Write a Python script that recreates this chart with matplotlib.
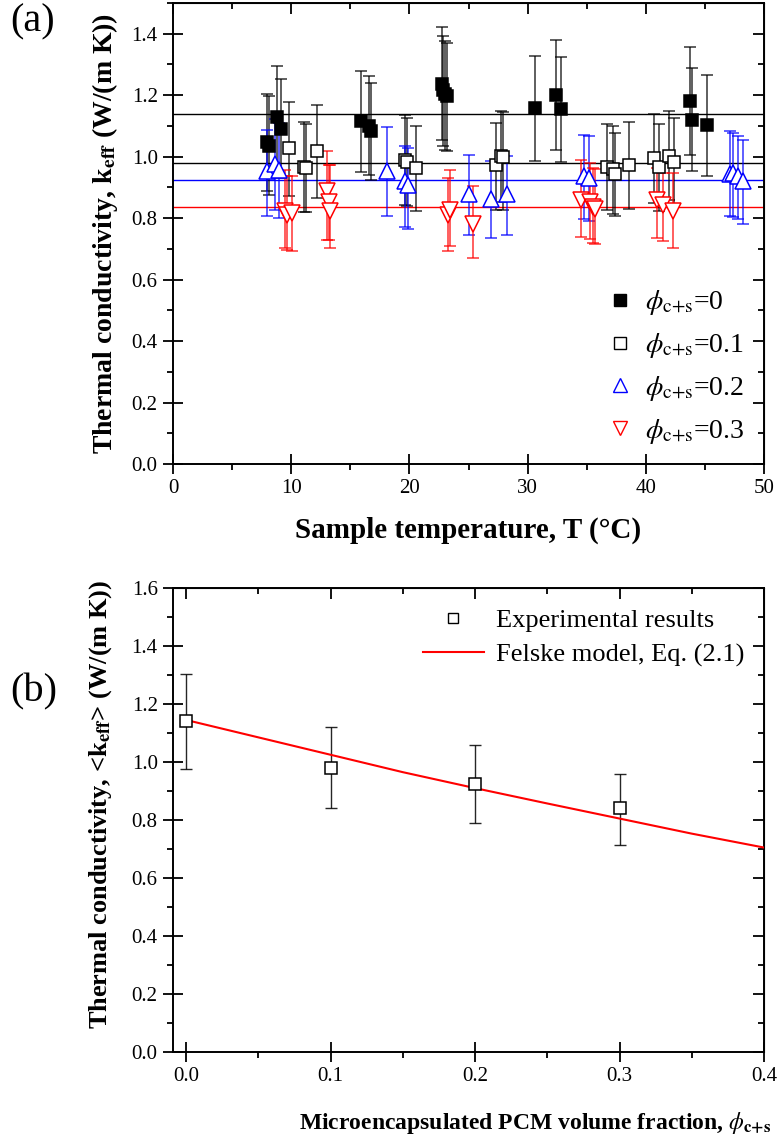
import matplotlib
matplotlib.use("Agg")
import matplotlib.pyplot as plt
from matplotlib.ticker import MultipleLocator, FormatStrFormatter
from matplotlib.lines import Line2D
import numpy as np

plt.rcParams['font.family'] = ['Liberation Serif', 'DejaVu Serif']
plt.rcParams['mathtext.fontset'] = 'stix'

# ---------------- Panel (a) data ----------------
T0 = [7.93, 8.12, 8.83, 9.11, 15.93, 16.58, 16.78, 22.73, 22.87, 23.0, 23.2,
      30.63, 32.43, 32.8, 43.71, 43.94, 45.15]
k0 = [1.047, 1.034, 1.129, 1.091, 1.115, 1.099, 1.083, 1.238, 1.218, 1.205, 1.196,
      1.159, 1.202, 1.156, 1.182, 1.120, 1.102]
k0_hi = [1.204, 1.196, 1.294, 1.254, 1.278, 1.262, 1.240, 1.421, 1.394, 1.376, 1.370,
         1.329, 1.379, 1.325, 1.356, 1.287, 1.267]
k0_lo = [0.887, 0.876, 0.960, 0.930, 0.951, 0.939, 0.923, 1.055, 1.034, 1.023, 1.017,
         0.986, 1.023, 0.984, 1.004, 0.952, 0.936]

T1 = [9.84, 11.11, 11.28, 12.18, 19.66, 19.82, 20.56, 27.3, 27.72, 27.9,
      36.69, 37.2, 37.37, 38.55, 40.7, 41.1, 41.96, 42.36]
k1 = [1.027, 0.968, 0.962, 1.018, 0.990, 0.984, 0.963, 0.972, 1.003, 1.000,
      0.968, 0.960, 0.944, 0.972, 0.995, 0.965, 1.001, 0.984]
k1_hi = [1.179, 1.112, 1.107, 1.169, 1.134, 1.126, 1.101, 1.110, 1.147, 1.144,
         1.107, 1.100, 1.077, 1.112, 1.140, 1.107, 1.147, 1.127]
k1_lo = [0.873, 0.821, 0.819, 0.865, 0.844, 0.838, 0.823, 0.827, 0.854, 0.827,
         0.827, 0.815, 0.806, 0.831, 0.849, 0.822, 0.860, 0.844]

T2 = [7.98, 8.66, 9.0, 18.08, 19.63, 19.9, 25.0, 26.88, 28.23, 34.8, 35.2,
      47.1, 47.4, 47.8, 48.25]
k2 = [0.952, 0.976, 0.955, 0.952, 0.920, 0.909, 0.880, 0.862, 0.878, 0.936, 0.930,
      0.945, 0.947, 0.936, 0.920]
k2_hi = [1.088, 1.121, 1.110, 1.096, 1.036, 1.028, 1.004, 0.985, 1.001, 1.072, 1.066,
         1.082, 1.077, 1.068, 1.053]
k2_lo = [0.806, 0.827, 0.800, 0.808, 0.771, 0.765, 0.745, 0.735, 0.746, 0.797, 0.792,
         0.806, 0.804, 0.797, 0.782]

T3 = [9.48, 9.67, 10.04, 13.06, 13.2, 13.25, 23.29, 23.43, 25.4, 34.5, 35.28, 35.56,
      35.7, 40.92, 41.48, 42.33]
k3 = [0.822, 0.811, 0.817, 0.887, 0.854, 0.822, 0.811, 0.827, 0.782, 0.860, 0.854,
      0.836, 0.830, 0.860, 0.844, 0.822]
k3_hi = [0.958, 0.936, 0.936, 1.017, 0.974, 0.974, 0.931, 0.955, 0.903, 0.990, 0.979,
         0.963, 0.960, 0.963, 0.947, 0.947]
k3_lo = [0.703, 0.697, 0.692, 0.730, 0.730, 0.703, 0.692, 0.708, 0.670, 0.738, 0.732,
         0.719, 0.715, 0.735, 0.724, 0.703]

mean_k = [1.14, 0.98, 0.925, 0.837]
mean_colors = ['black', 'black', 'blue', 'red']
legend_a = [r'$\phi_{\rm c{+}s}$' + '=0', r'$\phi_{\rm c{+}s}$' + '=0.1',
            r'$\phi_{\rm c{+}s}$' + '=0.2', r'$\phi_{\rm c{+}s}$' + '=0.3']

# ---------------- Panel (b) data ----------------
phi_exp = [0.0, 0.1, 0.2, 0.3]
k_exp = [1.14, 0.98, 0.925, 0.84]
k_exp_hi = [1.305, 1.12, 1.06, 0.96]
k_exp_lo = [0.975, 0.84, 0.79, 0.715]

phi_model = [0.0, 0.05, 0.1, 0.15, 0.2, 0.25, 0.3, 0.35, 0.4]
k_model = [1.145, 1.085, 1.025, 0.965, 0.91, 0.857, 0.805, 0.753, 0.705]
legend_b = ['Experimental results', 'Felske model, Eq. (2.1)']

# ---------------- Figure ----------------
fig = plt.figure(figsize=(7.79, 11.46), dpi=100)
axA = fig.add_axes([173/779, 1-464/1146, 591/779, 461/1146])
axB = fig.add_axes([173/779, 1-1052/1146, 591/779, 464/1146])


def style(ax, xmaj, xmin, ymaj, ymin):
    for s in ax.spines.values():
        s.set_linewidth(1.4)
    ax.xaxis.set_major_locator(MultipleLocator(xmaj))
    ax.xaxis.set_minor_locator(MultipleLocator(xmin))
    ax.yaxis.set_major_locator(MultipleLocator(ymaj))
    ax.yaxis.set_minor_locator(MultipleLocator(ymin))
    ax.tick_params(which='major', direction='inout', length=14, width=1.3,
                   labelsize=15, pad=4)
    ax.tick_params(which='minor', direction='out', length=4, width=1.3)
    sx = ax.secondary_xaxis('top')
    sx.xaxis.set_major_locator(MultipleLocator(xmaj))
    sx.xaxis.set_minor_locator(MultipleLocator(xmin))
    sx.tick_params(which='major', direction='in', length=8, width=1.3,
                   labeltop=False, labelbottom=False)
    sx.tick_params(which='minor', direction='in', length=4, width=1.3)
    sy = ax.secondary_yaxis('right')
    sy.yaxis.set_major_locator(MultipleLocator(ymaj))
    sy.yaxis.set_minor_locator(MultipleLocator(ymin))
    sy.tick_params(which='major', direction='in', length=8, width=1.3,
                   labelleft=False, labelright=False)
    sy.tick_params(which='minor', direction='in', length=4, width=1.3)


# Panel (a)
for k, c in zip(mean_k, mean_colors):
    axA.axhline(k, color=c, lw=1.0, zorder=1)

series = [
    (T0, k0, k0_hi, k0_lo, 's', 'black', 'black'),
    (T1, k1, k1_hi, k1_lo, 's', 'white', 'black'),
    (T2, k2, k2_hi, k2_lo, '^', 'white', 'blue'),
    (T3, k3, k3_hi, k3_lo, 'v', 'white', 'red'),
]
for T, k, hi, lo, m, fc, ec in series:
    T = np.array(T); k = np.array(k)
    yerr = [k - np.array(lo), np.array(hi) - k]
    axA.errorbar(T, k, yerr=yerr, fmt='none', ecolor=ec, elinewidth=1.1,
                 capsize=4, capthick=1.1, alpha=0.8, zorder=2)
    axA.plot(T, k, ls='none', marker=m, ms=8.5 if m == 's' else 11,
             mfc=fc, mec=ec, mew=1.1, zorder=3)

axA.set_xlim(0, 50)
axA.set_ylim(0, 1.5)
style(axA, 10, 5, 0.2, 0.1)
axA.yaxis.set_major_formatter(FormatStrFormatter('%.1f'))
axA.set_xlabel('Sample temperature, T (\u00b0C)', fontsize=21,
               fontweight='bold', labelpad=13)
axA.set_ylabel(r'Thermal conductivity, k$_{\bf eff}$ (W/(m K))', fontsize=20,
               fontweight='bold', labelpad=8)

handles_a = [Line2D([], [], ls='none', marker='s', ms=8, mfc='black', mec='black'),
             Line2D([], [], ls='none', marker='s', ms=8, mfc='white', mec='black'),
             Line2D([], [], ls='none', marker='^', ms=10, mfc='white', mec='blue'),
             Line2D([], [], ls='none', marker='v', ms=10, mfc='white', mec='red')]
axA.legend(handles_a, legend_a, loc='lower left',
           bbox_to_anchor=((609 - 173) / 591, 0.039),
           frameon=False, fontsize=20, handlelength=0.8, handletextpad=0.5,
           labelspacing=0.5, borderaxespad=0, borderpad=0)

# Panel (b)
phi_exp_a = np.array(phi_exp); k_exp_a = np.array(k_exp)
axB.errorbar(phi_exp_a, k_exp_a,
             yerr=[k_exp_a - np.array(k_exp_lo), np.array(k_exp_hi) - k_exp_a],
             fmt='none', ecolor='black', elinewidth=1.0, capsize=4, capthick=1.0,
             alpha=0.85, zorder=2)
axB.plot(phi_model, k_model, color='red', lw=1.5, zorder=3)
axB.plot(phi_exp, k_exp, ls='none', marker='s', ms=8.5, mfc='white', mec='black',
         mew=1.1, zorder=4)
axB.set_xlim(-0.009, 0.4)
axB.set_ylim(0, 1.6)
style(axB, 0.1, 0.05, 0.2, 0.1)
axB.xaxis.set_major_formatter(FormatStrFormatter('%.1f'))
axB.yaxis.set_major_formatter(FormatStrFormatter('%.1f'))
axB.set_xlabel(r'Microencapsulated PCM volume fraction, $\phi_{\bf c{+}s}$',
               fontsize=17, fontweight='bold')
axB.xaxis.set_label_coords((535 - 173) / 591, -(1110 - 1052) / 464)
axB.set_ylabel(r'Thermal conductivity, <k$_{\bf eff}$> (W/(m K))', fontsize=19,
               fontweight='bold')
axB.yaxis.set_label_coords(-(173 - 114) / 591, (1052 - 804) / 464)

handles_b = [Line2D([], [], ls='none', marker='s', ms=7, mfc='white', mec='black'),
             Line2D([], [], color='red', lw=1.5)]
axB.legend(handles_b, legend_b, loc='upper right', bbox_to_anchor=(0.975, 0.967),
           frameon=False, fontsize=19, handlelength=2.3, handletextpad=0.45,
           labelspacing=0.4, borderaxespad=0, borderpad=0.2)

fig.text(10/779, 1-22/1146, '(a)', fontsize=29, va='center', ha='left')
fig.text(10/779, 1-692/1146, '(b)', fontsize=29, va='center', ha='left')

fig.savefig('out.png', dpi=100)
